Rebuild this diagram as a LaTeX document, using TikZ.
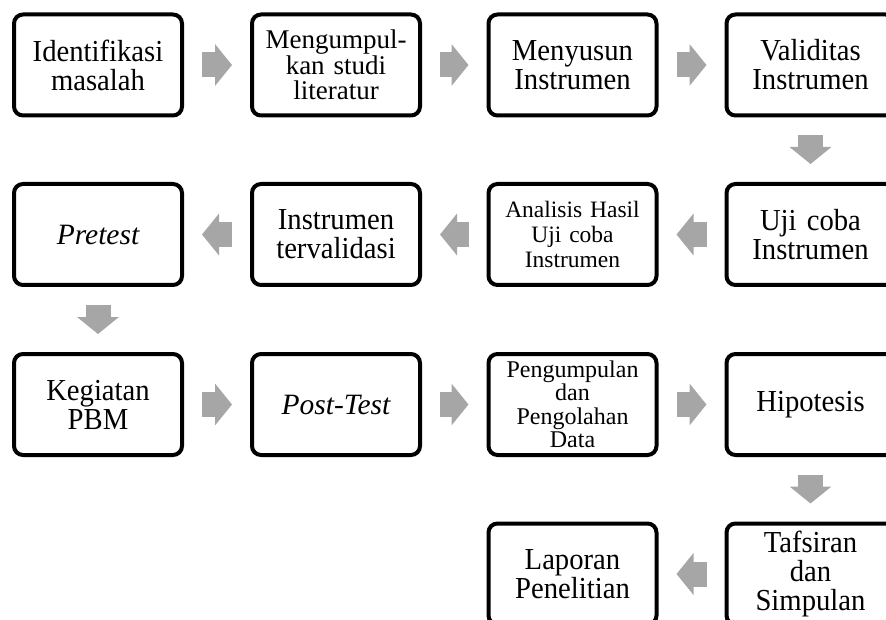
\documentclass[tikz,border=0pt]{standalone}
\usepackage{fontspec}
\setmainfont[FakeStretch=0.94]{Liberation Serif}
\newfontfamily\plainserif{Liberation Serif}
\usetikzlibrary{arrows.meta}
\definecolor{arrowgray}{HTML}{A6A6A6}

\begin{document}
\begin{tikzpicture}[x=1pt, y=-1pt,
    box/.style={draw, line width=4pt, rounded corners=9pt, minimum width=168pt, minimum height=101pt, inner sep=0pt, text width=160pt, align=center},
    big/.style={font=\fontsize{30.5}{29}\selectfont},
    ital/.style={font=\plainserif\itshape\fontsize{29.5}{29}\selectfont},
    mid/.style={font=\plainserif\fontsize{27}{25.5}\selectfont},
    small/.style={font=\plainserif\fontsize{23.5}{25}\selectfont},
    tiny/.style={font=\plainserif\fontsize{24}{23.5}\selectfont},
    flow/.style={draw=arrowgray, line width=25pt, shorten >=18pt, shorten <=18pt, -{Triangle[length=17pt 0 0, width=41pt 0 0]}}]
    \useasboundingbox (0,0) rectangle (886,620);
    \clip (0,0) rectangle (886,620);
    \node[box, big] (identifikasi) at (98,65) {Identifikasi\\masalah};
    \node[box, mid] (studi) at (336,65) {Mengumpul-\\kan studi\\literatur};
    \node[box, big] (menyusun) at (572.5,65) {Menyusun\\Instrumen};
    \node[box, big] (validitas) at (810.5,65) {Validitas\\Instrumen};
    \node[box, ital] (pretest) at (98,234.5) {Pretest};
    \node[box, big] (tervalidasi) at (336,234.5) {Instrumen\\tervalidasi};
    \node[box, small] (analisis) at (572.5,234.5) {Analisis Hasil\\Uji coba\\Instrumen};
    \node[box, big] (ujicoba) at (810.5,234.5) {Uji coba\\Instrumen};
    \node[box, big] (pbm) at (98,404.5) {Kegiatan\\PBM};
    \node[box, ital] (posttest) at (336,404.5) {Post-Test};
    \node[box, tiny] (pengolahan) at (572.5,404.5) {Pengumpulan\\dan\\Pengolahan\\Data};
    \node[box, big] (hipotesis) at (810.5,404.5) {Hipotesis};
    \node[box, big] (laporan) at (572.5,574) {Laporan\\Penelitian};
    \node[box, big] (simpulan) at (810.5,574) {Tafsiran\\dan\\Simpulan};
    \draw[flow] (identifikasi) -- (studi);
    \draw[flow] (studi) -- (menyusun);
    \draw[flow] (menyusun) -- (validitas);
    \draw[flow] (validitas) -- (ujicoba);
    \draw[flow] (ujicoba) -- (analisis);
    \draw[flow] (analisis) -- (tervalidasi);
    \draw[flow] (tervalidasi) -- (pretest);
    \draw[flow] (pretest) -- (pbm);
    \draw[flow] (pbm) -- (posttest);
    \draw[flow] (posttest) -- (pengolahan);
    \draw[flow] (pengolahan) -- (hipotesis);
    \draw[flow] (hipotesis) -- (simpulan);
    \draw[flow] (simpulan) -- (laporan);
\end{tikzpicture}
\end{document}
